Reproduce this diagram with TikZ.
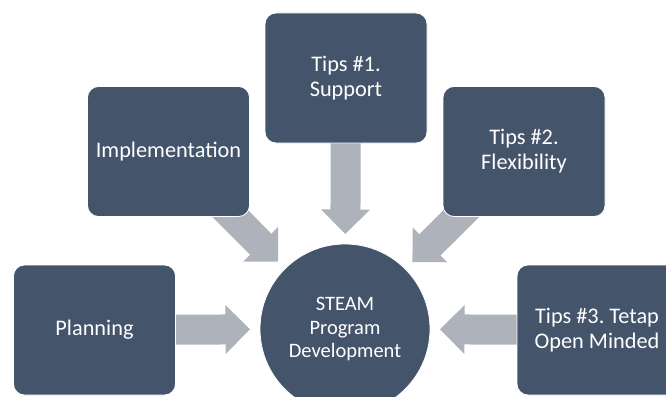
\documentclass[tikz,border=0pt]{standalone}
\usepackage{fontspec}
\setmainfont{Carlito}
\usetikzlibrary{calc}
\definecolor{boxblue}{RGB}{68,84,106}
\definecolor{arrowgray}{RGB}{174,178,186}
\pgfdeclarelayer{bg}
\pgfsetlayers{bg,main}
\frenchspacing
\tikzset{
  box/.style={rectangle, rounded corners=11pt, fill=boxblue, draw=white, line width=0.8pt,
    minimum width=162pt, minimum height=130pt, inner sep=0pt, text=white,
    font=\fontsize{22.3}{25}\selectfont, align=center},
  hub/.style={circle, fill=boxblue, draw=white, line width=0.8pt, minimum size=170pt,
    inner sep=0pt, text=white, font=\fontsize{20.5}{23.5}\selectfont, align=center},
  blockarrow/.style={fill=arrowgray}
}
\newcommand\blockarrow[2]{%
  \fill[blockarrow] let \p1=($(#2.center)!95pt!(#1.center)$), \p2=(#1.center),
     \n1={atan2(\y2-\y1,\x2-\x1)}, \n2={veclen(\x2-\x1,\y2-\y1)} in
     (\p1) -- ++(\n1+45:34.65pt) -- ++(\n1-90:9.5pt) -- ++(\n1:\n2-24.5pt)
     -- ++(\n1-90:30pt) -- ++(\n1+180:\n2-24.5pt) -- ++(\n1-90:9.5pt) -- cycle;
}
\begin{document}
\begin{tikzpicture}[x=1pt,y=-1pt]
\useasboundingbox (0,0) rectangle (666,396);
\clip (0,0) rectangle (666,396);
\node[hub] (c) at (345,329) {STEAM\\Program\\Development};
\node[box] (t1) at (346,78) {Tips \#1.\\Support};
\node[box] (impl) at (168.5,151.5) {Implementation};
\node[box] (t2) at (524,151.5) {Tips \#2.\\Flexibility};
\node[box] (plan) at (94.5,330) {Planning};
\node[box, minimum width=160pt] (t3) at (597,330) {Tips \#3. Tetap\\Open Minded};
\begin{pgfonlayer}{bg}
\blockarrow{t1}{c}
\blockarrow{impl}{c}
\blockarrow{t2}{c}
\blockarrow{plan}{c}
\blockarrow{t3}{c}
\end{pgfonlayer}
\end{tikzpicture}
\end{document}
